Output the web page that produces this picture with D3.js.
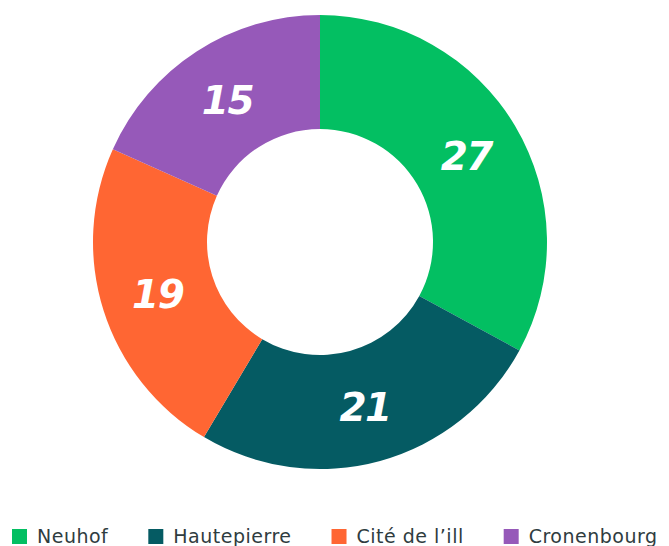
<!DOCTYPE html>
<html>
<head>
<meta charset="utf-8">
<script src="https://cdn.jsdelivr.net/npm/d3@7"></script>
<style>
  html, body { margin: 0; padding: 0; background: #ffffff; overflow: hidden; }
  svg { display: block; }
</style>
</head>
<body>
<svg id="chart" width="669" height="546"></svg>
<script>
// Quartiers et valeurs
const categories = ["Neuhof", "Hautepierre", "Cité de l’ill", "Cronenbourg"];
const values = [27, 21, 19, 15];
const colors = ["#03bf62", "#055b63", "#ff6633", "#9659b9"];

const svg = d3.select("#chart");
const cx = 320, cy = 242;
const outerR = 227, innerR = 113;

const data = categories.map((c, i) => ({ name: c, value: values[i], color: colors[i] }));

const pie = d3.pie().value(d => d.value).sort(null);
const arc = d3.arc().innerRadius(innerR).outerRadius(outerR);
const labelArc = d3.arc().innerRadius(outerR * 0.75).outerRadius(outerR * 0.75);

const g = svg.append("g").attr("transform", `translate(${cx},${cy})`);

const arcs = pie(data);

g.selectAll("path.slice")
  .data(arcs)
  .join("path")
  .attr("class", "slice")
  .attr("d", arc)
  .attr("fill", d => d.data.color);

g.selectAll("text.value")
  .data(arcs)
  .join("text")
  .attr("class", "value")
  .attr("transform", d => `translate(${labelArc.centroid(d)})`)
  .attr("text-anchor", "middle")
  .attr("dy", "0.38em")
  .attr("fill", "#ffffff")
  .attr("font-family", "'DejaVu Sans', sans-serif")
  .attr("font-weight", "bold")
  .attr("font-style", "italic")
  .attr("font-size", 39)
  .attr("letter-spacing", -1.5)
  .text(d => d.data.value);

// Légende horizontale en bas
const legend = svg.append("g").attr("class", "legend");
let x = 12;
const sq = 15, legendY = 529, gap = 40;
data.forEach(d => {
  const item = legend.append("g").attr("transform", `translate(${x},${legendY})`);
  item.append("rect")
    .attr("width", sq).attr("height", sq)
    .attr("fill", d.color);
  const t = item.append("text")
    .attr("x", sq + 10)
    .attr("y", sq - 1)
    .attr("fill", "#2f3c40")
    .attr("font-family", "'DejaVu Sans', sans-serif")
    .attr("font-size", 19)
    .attr("letter-spacing", 0.5)
    .text(d.name);
  x += sq + 10 + t.node().getComputedTextLength() + gap;
});
</script>
</body>
</html>
